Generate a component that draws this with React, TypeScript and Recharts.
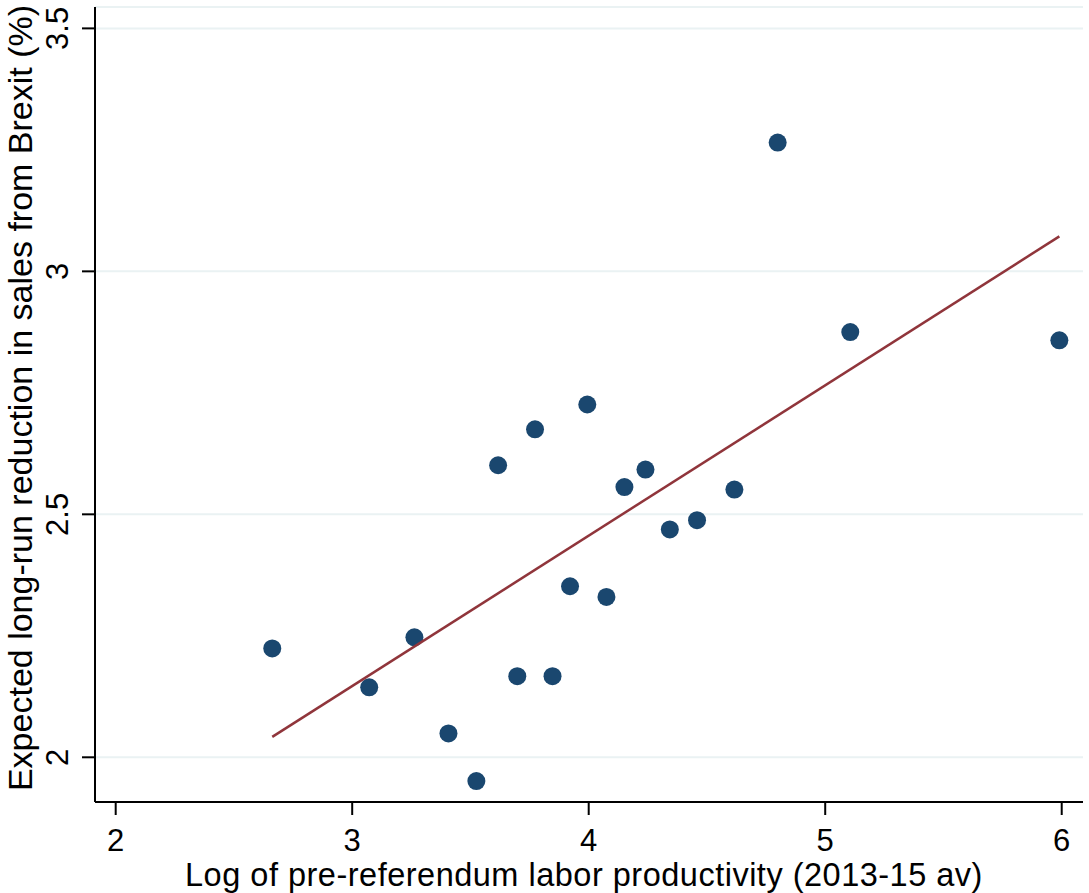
import React from "react";
import {
  ScatterChart,
  Scatter,
  XAxis,
  YAxis,
  CartesianGrid,
} from "recharts";

// Log of pre-referendum labor productivity (x) and expected reduction in sales (y)
const productivity = [
  2.662, 3.072, 3.263, 3.407, 3.525, 3.617, 3.698, 3.773, 3.847, 3.921,
  3.994, 4.075, 4.151, 4.24, 4.343, 4.458, 4.616, 4.799, 5.106, 5.99,
];
const salesReduction = [
  2.224, 2.144, 2.247, 2.049, 1.951, 2.601, 2.167, 2.675, 2.167, 2.352,
  2.726, 2.33, 2.556, 2.592, 2.469, 2.488, 2.551, 3.265, 2.875, 2.858,
];

// fitted line end points
const fitX = [2.662, 5.99];
const fitY = [2.042, 3.072];

const xTicks = [2, 3, 4, 5, 6];
const yTicks = [2, 2.5, 3, 3.5];

const NAVY = "#1a476f";
const MAROON = "#90353b";
const GRID = "#eaf2f3";
const FONT = "'Liberation Sans', Arial, Helvetica, sans-serif";

const points = productivity.map((x, i) => ({ x, y: salesReduction[i] }));
const fitLine = fitX.map((x, i) => ({ x, y: fitY[i] }));

const XTick = (props: any) => {
  const { x, payload } = props;
  return (
    <text x={x} y={851} textAnchor="middle" fontFamily={FONT} fontSize={31} fill="#000">
      {payload.value}
    </text>
  );
};

const YTick = (props: any) => {
  const { y, payload } = props;
  return (
    <text
      x={68}
      y={y}
      transform={`rotate(-90, 68, ${y})`}
      textAnchor="middle"
      fontFamily={FONT}
      fontSize={31}
      fill="#000"
    >
      {payload.value}
    </text>
  );
};

const Dot = (props: any) => <circle cx={props.cx} cy={props.cy} r={9} fill={NAVY} />;
const NoDot = () => <g />;

export default function App() {
  return (
    <div style={{ position: "absolute", left: 0, top: 0, background: "#fff" }}>
      <ScatterChart
        width={1089}
        height={893}
        margin={{ top: 7, right: 6, left: 0, bottom: 0 }}
      >
        <CartesianGrid vertical={false} stroke={GRID} strokeWidth={2} />
        <XAxis
          type="number"
          dataKey="x"
          domain={[1.9125, 6.09]}
          ticks={xTicks}
          height={91}
          tickSize={13}
          stroke="#000"
          strokeWidth={2}
          tick={<XTick />}
          label={() => (
            <text
              x={584}
              y={886}
              textAnchor="middle"
              fontFamily={FONT}
              fontSize={32.5}
              letterSpacing={0.5}
              fill="#000"
            >
              Log of pre-referendum labor productivity (2013-15 av)
            </text>
          )}
        />
        <YAxis
          type="number"
          dataKey="y"
          domain={[1.908, 3.544]}
          ticks={yTicks}
          width={95}
          tickSize={13}
          stroke="#000"
          strokeWidth={2}
          tick={<YTick />}
          label={() => (
            <text
              x={32}
              y={398}
              transform="rotate(-90, 32, 398)"
              textAnchor="middle"
              fontFamily={FONT}
              fontSize={34}
              fill="#000"
            >
              Expected long-run reduction in sales from Brexit (%)
            </text>
          )}
        />
        <Scatter data={points} shape={<Dot />} isAnimationActive={false} />
        <Scatter
          data={fitLine}
          line={{ stroke: MAROON, strokeWidth: 2.5 }}
          shape={<NoDot />}
          isAnimationActive={false}
        />
      </ScatterChart>
    </div>
  );
}
